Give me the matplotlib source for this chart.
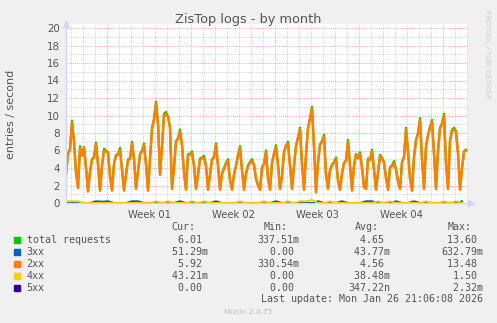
import numpy as np
import pandas as pd
import matplotlib
matplotlib.use("Agg")
import matplotlib.pyplot as plt
import matplotlib.dates as mdates
from matplotlib.patches import Rectangle
from matplotlib.ticker import MultipleLocator

# --- 1. DATA ---
# 2xx and total: one value every 4 hours
start = pd.Timestamp("2025-12-24 14:00")

req_2xx = [
    3.2, 5.6, 6.1, 9.2, 7.0, 3.4, 1.7, 6.3, 5.4, 6.3,
    4.0, 1.3, 3.5, 4.9, 5.2, 6.7, 4.4, 1.4, 4.2, 6.0,
    5.9, 5.7, 3.0, 1.4, 4.4, 5.4, 5.5, 6.1, 3.8, 1.4,
    3.2, 4.9, 5.0, 6.8, 5.0, 1.6, 3.5, 5.5, 5.9, 6.6,
    4.4, 1.4, 5.0, 8.4, 9.5, 11.4, 9.0, 3.2, 6.4, 10.0,
    10.2, 9.8, 8.6, 1.6, 4.0, 7.0, 7.3, 8.2, 6.6, 3.4,
    1.5, 5.5, 5.5, 5.7, 4.2, 1.6, 3.2, 5.0, 5.1, 5.2,
    4.2, 1.5, 3.2, 4.9, 5.2, 6.6, 4.2, 1.5, 3.3, 3.9,
    4.5, 4.8, 2.6, 1.5, 3.2, 4.2, 5.4, 6.3, 3.7, 1.5,
    3.3, 4.2, 4.6, 4.8, 4.3, 2.7, 2.0, 1.5, 4.0, 4.4,
    5.8, 2.8, 1.5, 4.5, 5.6, 6.4, 4.3, 1.6, 3.0, 5.8,
    6.5, 6.8, 4.2, 1.6, 4.2, 6.5, 7.4, 8.4, 4.4, 1.5,
    5.4, 8.5, 9.6, 10.8, 6.4, 1.2, 4.6, 6.6, 7.0, 7.6,
    3.2, 1.6, 3.7, 4.3, 4.6, 5.0, 2.5, 1.5, 3.3, 4.5,
    4.8, 7.0, 4.2, 1.4, 4.2, 5.5, 5.1, 5.6, 4.0, 1.8,
    1.6, 5.0, 4.9, 5.9, 3.8, 1.5, 3.4, 5.3, 5.1, 4.6,
    2.8, 1.5, 4.0, 4.2, 4.6, 3.8, 2.4, 1.6, 4.6, 5.2,
    8.4, 5.8, 2.8, 1.4, 5.2, 7.1, 7.9, 9.5, 5.0, 1.6,
    6.4, 7.7, 8.6, 9.3, 5.6, 1.6, 5.9, 8.5, 9.0, 10.0,
    4.5, 1.6, 7.0, 8.3, 8.4, 8.1, 5.7, 1.5, 3.9, 5.8,
    6.0,
]

req_total = [
    3.3, 5.7, 6.2, 9.4, 7.1, 3.5, 1.8, 6.5, 5.5, 6.4,
    4.1, 1.4, 3.6, 5.0, 5.3, 6.9, 4.5, 1.5, 4.3, 6.2,
    6.0, 5.8, 3.1, 1.5, 4.5, 5.5, 5.6, 6.3, 3.9, 1.5,
    3.3, 5.0, 5.1, 7.0, 5.1, 1.7, 3.6, 5.6, 6.0, 6.8,
    4.5, 1.5, 5.1, 8.6, 9.6, 11.6, 9.1, 3.3, 6.5, 10.2,
    10.4, 9.9, 8.7, 1.7, 4.1, 7.1, 7.4, 8.4, 6.7, 3.5,
    1.6, 5.6, 5.6, 5.9, 4.3, 1.7, 3.3, 5.1, 5.2, 5.4,
    4.3, 1.6, 3.3, 5.0, 5.3, 6.8, 4.3, 1.6, 3.4, 4.0,
    4.6, 5.0, 2.7, 1.6, 3.3, 4.3, 5.5, 6.5, 3.8, 1.6,
    3.4, 4.3, 4.7, 5.0, 4.4, 2.8, 2.1, 1.6, 4.1, 4.5,
    6.0, 2.9, 1.6, 4.6, 5.7, 6.6, 4.4, 1.7, 3.1, 5.9,
    6.6, 7.0, 4.3, 1.7, 4.3, 6.6, 7.5, 8.6, 4.5, 1.6,
    5.5, 8.6, 9.7, 11.0, 6.5, 1.3, 4.7, 6.7, 7.1, 7.8,
    3.3, 1.7, 3.8, 4.4, 4.7, 5.2, 2.6, 1.6, 3.4, 4.6,
    4.9, 7.2, 4.3, 1.5, 4.3, 5.6, 5.2, 5.8, 4.1, 1.9,
    1.7, 5.1, 5.0, 6.1, 3.9, 1.6, 3.5, 5.5, 5.2, 4.7,
    2.9, 1.6, 4.1, 4.3, 4.8, 3.9, 2.5, 1.7, 4.7, 5.3,
    8.6, 5.9, 2.9, 1.5, 5.3, 7.2, 8.0, 9.7, 5.1, 1.7,
    6.5, 7.8, 8.7, 9.5, 5.7, 1.7, 6.0, 8.6, 9.1, 10.2,
    4.6, 1.7, 7.1, 8.4, 8.6, 8.2, 5.8, 1.6, 4.0, 5.9,
    6.1,
]

# 3xx / 4xx / 5xx: one value every 12 hours (they hug the zero line)
req_3xx = [
    0, 0, 0, 0, 0, 0.2, 0.15, 0.2, 0, 0,
    0, 0.2, 0.2, 0, 0, 0, 0, 0, 0, 0.2,
    0, 0, 0, 0, 0, 0.2, 0, 0, 0, 0,
    0, 0, 0, 0, 0, 0.2, 0, 0, 0, 0,
    0, 0, 0.2, 0, 0, 0, 0.2, 0, 0, 0,
    0.2, 0.2, 0, 0, 0, 0.2, 0, 0, 0.2, 0,
    0, 0, 0, 0, 0, 0, 0.2,
]
req_4xx = [
    0.2, 0.2, 0.2, 0, 0, 0, 0, 0, 0, 0,
    0, 0, 0, 0, 0, 0.2, 0, 0.2, 0, 0,
    0, 0.2, 0, 0.2, 0, 0, 0, 0, 0, 0.2,
    0, 0, 0, 0.2, 0, 0, 0, 0.2, 0, 0.2,
    0.2, 0.35, 0, 0, 0.2, 0, 0, 0, 0, 0,
    0, 0, 0.2, 0, 0.2, 0, 0, 0, 0, 0,
    0.2, 0, 0, 0.2, 0, 0.2, 0,
]
req_5xx = [0.0] * 67

names = ["total requests", "3xx", "2xx", "4xx", "5xx"]
colors = ["#00CC00", "#0066B3", "#FF8000", "#FFCC00", "#330099"]
cur_vals = [6.01, 51.29e-3, 5.92, 43.21e-3, 0.0]
min_vals = [337.51e-3, 0.0, 330.54e-3, 0.0, 0.0]
avg_vals = [4.65, 43.77e-3, 4.56, 38.48e-3, 347.22e-9]
max_vals = [13.60, 632.79e-3, 13.48, 1.50, 2.32e-3]

# --- 2. FIGURE LAYOUT (munin is pixel based, so work in pixels) ---
W, H = 497, 323
TXT = "#555555"


def fx(px):
    return px / W


def fy(py):
    return 1 - py / H


def si(v):
    # rrdtool style "%6.2lf%s"
    if v == 0:
        return "%6.2f " % 0
    for factor, suffix in [(1, " "), (1e-3, "m"), (1e-6, "u"), (1e-9, "n")]:
        if abs(v) >= factor:
            return "%6.2f%s" % (v / factor, suffix)
    return "%6.2f " % v


fig = plt.figure(figsize=(W / 100, H / 100), dpi=100, facecolor="#F0F0F0")
left, right, top, bottom = 66, 468, 24, 203
ax = fig.add_axes([fx(left), fy(bottom), (right - left) / W, (bottom - top) / H])
ax.set_facecolor("white")

t4 = pd.date_range(start, periods=len(req_2xx), freq="4h")
t12 = pd.date_range(start, periods=len(req_3xx), freq="12h")

ax.plot(t4, req_total, color=colors[0], lw=1.6, zorder=3)
ax.plot(t12, req_3xx, color=colors[1], lw=1.4, zorder=3)
ax.plot(t4, req_2xx, color=colors[2], lw=1.8, zorder=4)
ax.plot(t12, req_4xx, color=colors[3], lw=1.4, zorder=4)
ax.plot(t12, req_5xx, color=colors[4], lw=0.8, alpha=0.45, zorder=5)

# 0.5 px per hour -> axis range in hours
x0 = start
x1 = start + pd.Timedelta(hours=(right - left) * 2)
ax.set_xlim(x0, x1)
ax.set_ylim(0, (bottom - top) / 8.75)

# --- 3. GRID ---
ax.set_yticks(np.arange(0, 21, 2))
ax.yaxis.set_minor_locator(MultipleLocator(1))
ax.xaxis.set_major_locator(mdates.WeekdayLocator(byweekday=mdates.SU))
ax.xaxis.set_minor_locator(mdates.DayLocator())
ax.xaxis.set_major_formatter(plt.NullFormatter())
ax.grid(True, which="minor", color="#c0c0c0", lw=0.6, linestyle=(0, (1, 1.5)))
ax.grid(True, which="major", color="#e09090", lw=0.6, linestyle=(0, (1, 1.5)))
ax.set_axisbelow(True)
ax.tick_params(which="both", length=0)
ax.tick_params(axis="y", labelsize=7.4, labelcolor=TXT, pad=4.5)
for s in ax.spines.values():
    s.set_visible(False)

# week labels centred in each week
for sunday in pd.date_range(x0.ceil("D"), x1, freq="W-SUN"):
    mid = sunday + pd.Timedelta(days=3.5)
    if mid < x1:
        ax.text(mid, -0.065, mid.strftime("Week %V"), transform=ax.get_xaxis_transform(),
                ha="center", va="center", fontsize=7.2, color=TXT)

# axis lines with arrows
AXC = "#CFD6F8"
ax.plot([0, 0], [0, 1], transform=ax.transAxes, color=AXC, lw=1.0, clip_on=False, zorder=6)
ax.plot([0, 1.005], [0, 0], transform=ax.transAxes, color=AXC, lw=1.0, clip_on=False, zorder=2)
ax.plot([0], [1.0], marker="^", ms=5, color=AXC, transform=ax.transAxes, clip_on=False)
ax.plot([1.008], [0], marker=">", ms=5, color=AXC, transform=ax.transAxes, clip_on=False)

# --- 4. TEXTS ---
fig.text(fx(248.5), fy(23), "ZisTop logs - by month", ha="center", va="baseline",
         fontsize=9.3, color=TXT)
fig.text(fx(11.5), fy(114), "entries / second", rotation=90, ha="center", va="center",
         fontsize=8, color=TXT)
fig.text(fx(487), fy(54), "RRDTOOL / TOBI OETIKER", rotation=270, ha="center", va="center",
         fontsize=5, color="#cccccc")

MONO = "DejaVu Sans Mono"
FS = 7.2
col_start = [165.8, 257.5, 348.4, 441.2]
headers = ["Cur:", "Min:", "Avg:", "Max:"]
for cx, h in zip(col_start, headers):
    fig.text(fx(cx + 6), fy(227.3), h, family=MONO, fontsize=FS, color=TXT, va="center")

row_y = [239.7, 251.7, 263.7, 275.7, 287.7]
for i, name in enumerate(names):
    y = row_y[i]
    fig.patches.append(Rectangle((fx(14), fy(y + 2.8)), 5.6 / W, 5.6 / H,
                                 transform=fig.transFigure, color=colors[i]))
    fig.text(fx(26.7), fy(y), name, family=MONO, fontsize=FS, color=TXT, va="center")
    for cx, v in zip(col_start, [cur_vals[i], min_vals[i], avg_vals[i], max_vals[i]]):
        fig.text(fx(cx), fy(y), si(v), family=MONO, fontsize=FS, color=TXT, va="center")

fig.text(fx(483), fy(299.5), "Last update: Mon Jan 26 21:06:08 2026", family=MONO,
         fontsize=FS, color=TXT, ha="right", va="center")
fig.text(fx(247.8), fy(311.7), "Munin 2.0.75", fontsize=5.3, color="#bbbbbb",
         ha="center", va="center")

fig.savefig("out.png", dpi=100, facecolor=fig.get_facecolor())
